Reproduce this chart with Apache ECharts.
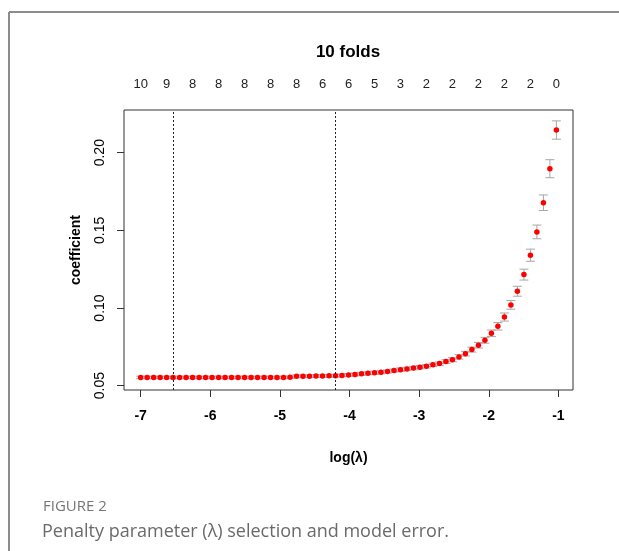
<!DOCTYPE html>
<html>
<head>
<meta charset="utf-8">
<script src="https://cdn.jsdelivr.net/npm/echarts@6/dist/echarts.min.js"></script>
<style>
html,body{margin:0;padding:0;background:#fff;}
#chart{width:619px;height:551px;}
</style>
</head>
<body>
<div id="chart"></div>
<script>
// log(lambda) of each cross-validated model
const logLambda = [
  -7.000,-6.907,-6.813,-6.720,-6.627,-6.534,-6.440,-6.347,-6.254,-6.160,
  -6.067,-5.974,-5.880,-5.787,-5.694,-5.601,-5.507,-5.414,-5.321,-5.227,
  -5.134,-5.041,-4.947,-4.854,-4.761,-4.668,-4.574,-4.481,-4.388,-4.294,
  -4.201,-4.108,-4.014,-3.921,-3.828,-3.735,-3.641,-3.548,-3.455,-3.361,
  -3.268,-3.175,-3.081,-2.988,-2.895,-2.802,-2.708,-2.615,-2.522,-2.428,
  -2.335,-2.242,-2.148,-2.055,-1.962,-1.869,-1.775,-1.682,-1.589,-1.495,
  -1.402,-1.309,-1.215,-1.122,-1.029
];
// mean cross-validated error (coefficient)
const cvMean = [
  0.0553,0.0553,0.0553,0.0553,0.0553,0.0553,0.0553,0.0553,0.0553,0.0553,
  0.0553,0.0553,0.0553,0.0553,0.0553,0.0553,0.0553,0.0553,0.0553,0.0553,
  0.0553,0.0553,0.0553,0.0554,0.0560,0.0560,0.0561,0.0562,0.0562,0.0563,
  0.0564,0.0566,0.0569,0.0572,0.0576,0.0580,0.0583,0.0586,0.0591,0.0597,
  0.0603,0.0608,0.0613,0.0619,0.0625,0.0634,0.0642,0.0655,0.0667,0.0685,
  0.0706,0.0732,0.0760,0.0792,0.0837,0.0882,0.0942,0.1020,0.1108,0.1215,
  0.1340,0.1490,0.1678,0.1897,0.2146
];
// standard error of the cross-validated error
const cvSE = [
  0.0008,0.0008,0.0008,0.0008,0.0008,0.0008,0.0008,0.0008,0.0008,0.0008,
  0.0008,0.0008,0.0008,0.0008,0.0008,0.0008,0.0008,0.0008,0.0008,0.0008,
  0.0008,0.0008,0.0008,0.0008,0.0009,0.0009,0.0009,0.0009,0.0009,0.0009,
  0.0009,0.0009,0.0009,0.0010,0.0010,0.0010,0.0010,0.0010,0.0010,0.0010,
  0.0011,0.0011,0.0011,0.0011,0.0011,0.0011,0.0011,0.0012,0.0013,0.0014,
  0.0015,0.0016,0.0018,0.0019,0.0021,0.0024,0.0026,0.0028,0.0032,0.0035,
  0.0039,0.0044,0.0050,0.0058,0.0059
];
// lambda.min and lambda.1se
const selectedLogLambda = [-6.534, -4.201];
// top axis: number of nonzero coefficients
const topLabelPositions = [-7.000,-6.627,-6.254,-5.880,-5.507,-5.134,-4.761,-4.388,-4.014,-3.641,-3.268,-2.895,-2.522,-2.148,-1.775,-1.402,-1.029];
const topLabels = ['10','9','8','8','8','8','8','6','6','5','3','2','2','2','2','2','0'];
// bottom / left ticks
const xTicks = [-7,-6,-5,-4,-3,-2,-1];
const yTicks = [0.05,0.10,0.15,0.20];
const yTickLabels = ['0.05','0.10','0.15','0.20'];

const FONT = 'Liberation Sans, Arial, sans-serif';
const chart = echarts.init(document.getElementById('chart'), null, {renderer:'canvas'});

const errData = logLambda.map((x,i)=>[x, cvMean[i]-cvSE[i], cvMean[i]+cvSE[i]]);
const ptData = logLambda.map((x,i)=>[x, cvMean[i]]);

function nearestIdx(arr, v){
  let b=0, d=Infinity;
  arr.forEach((a,i)=>{ const dd=Math.abs(a-v); if(dd<d){d=dd;b=i;} });
  return b;
}

chart.setOption({
  animation:false,
  backgroundColor:'#fff',
  title:{
    text:'10 folds', left:348, top:44, textAlign:'center', padding:0,
    textStyle:{fontFamily:FONT, fontSize:17, fontWeight:'bold', color:'#000'}
  },
  grid:{left:124, right:46, top:110, bottom:161, show:true, borderColor:'#333', borderWidth:1, backgroundColor:'transparent'},
  xAxis:[{
    type:'value', position:'bottom', min:-7.239, max:-0.790,
    name:'log(\u03bb)', nameLocation:'middle', nameGap:61,
    nameTextStyle:{fontFamily:FONT, fontSize:14, fontWeight:'bold', color:'#000'},
    axisLine:{show:false},
    splitLine:{show:false},
    axisTick:{show:true, customValues:xTicks, length:7, lineStyle:{color:'#333'}},
    axisLabel:{customValues:xTicks, margin:19, fontFamily:FONT, fontSize:14, fontWeight:'bold', color:'#000',
      formatter:(v)=>String(xTicks[nearestIdx(xTicks,v)])}
  },{
    type:'value', position:'top', min:-7.239, max:-0.790,
    axisLine:{show:false}, axisTick:{show:false}, splitLine:{show:false},
    axisLabel:{customValues:topLabelPositions, margin:19, fontFamily:FONT, fontSize:13, color:'#222',
      formatter:(v)=>topLabels[nearestIdx(topLabelPositions,v)]}
  }],
  yAxis:{
    type:'value', min:0.0472, max:0.2275,
    name:'coefficient', nameLocation:'middle', nameGap:41, nameRotate:90,
    nameTextStyle:{fontFamily:FONT, fontSize:14, fontWeight:'bold', color:'#000'},
    axisLine:{show:false}, splitLine:{show:false},
    axisTick:{show:true, customValues:yTicks, length:7, lineStyle:{color:'#333'}},
    axisLabel:{customValues:yTicks, rotate:90, margin:17, fontFamily:FONT, fontSize:14, color:'#000',
      formatter:(v)=>yTickLabels[nearestIdx(yTicks,v)]}
  },
  series:[{
    type:'custom', xAxisIndex:0, yAxisIndex:0, z:2, silent:true,
    data:errData,
    encode:{x:0, y:[1,2]},
    renderItem:function(params, api){
      const x = api.value(0), lo = api.value(1), hi = api.value(2);
      const a = api.coord([x, lo]), b = api.coord([x, hi]);
      const hw = 4.5;
      const st = {stroke:'#a6a6a6', lineWidth:1, fill:null};
      return {type:'group', children:[
        {type:'line', shape:{x1:a[0], y1:a[1], x2:b[0], y2:b[1]}, style:st},
        {type:'line', shape:{x1:a[0]-hw, y1:a[1], x2:a[0]+hw, y2:a[1]}, style:st},
        {type:'line', shape:{x1:b[0]-hw, y1:b[1], x2:b[0]+hw, y2:b[1]}, style:st}
      ]};
    }
  },{
    type:'scatter', xAxisIndex:0, yAxisIndex:0, z:3, silent:true,
    data:ptData, symbol:'circle', symbolSize:5.5,
    itemStyle:{color:'#ff0000', opacity:1},
    markLine:{
      silent:true, symbol:['none','none'], label:{show:false},
      lineStyle:{type:[2,2], color:'#222', width:1},
      data:selectedLogLambda.map(v=>({xAxis:v}))
    }
  }],
  graphic:[
    {type:'line', shape:{x1:9, y1:12, x2:619, y2:12}, style:{stroke:'#8c8c8c', lineWidth:2}},
    {type:'line', shape:{x1:9, y1:12, x2:9, y2:551}, style:{stroke:'#8c8c8c', lineWidth:2}},
    {type:'text', left:43, top:499, style:{text:'FIGURE 2', fontFamily:'Open Sans, Lato, sans-serif', fontSize:15, fill:'#767676'}},
    {type:'text', left:42, top:523, style:{text:'Penalty parameter (\u03bb) selection and model error.', fontFamily:'Open Sans, Lato, sans-serif', fontSize:18, fill:'#6a6a6a'}}
  ]
});
</script>
</body>
</html>
